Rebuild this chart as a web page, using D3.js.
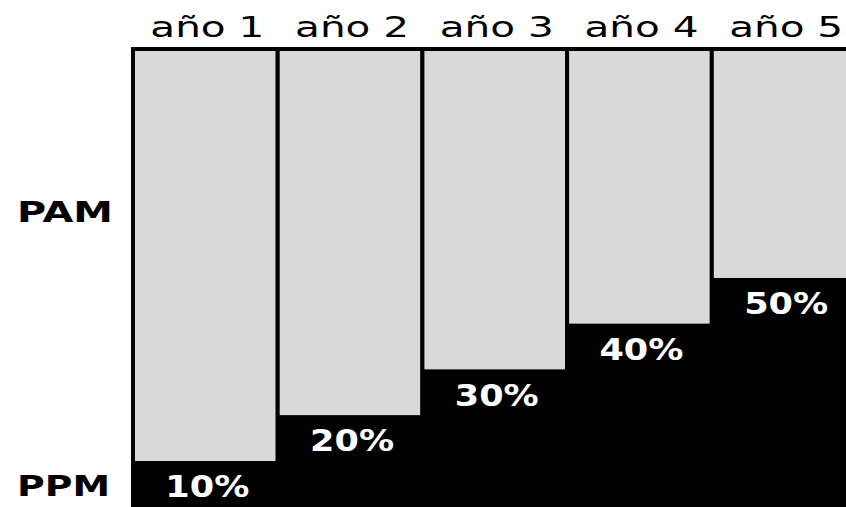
<!DOCTYPE html>
<html>
<head>
<meta charset="utf-8">
<script src="https://cdn.jsdelivr.net/npm/d3@7"></script>
<style>
  body { margin: 0; background: #fff; }
  svg { display: block; }
</style>
</head>
<body>
<svg id="chart"></svg>
<script>
// datos del gráfico
const years = ["año 1", "año 2", "año 3", "año 4", "año 5"];
const ppm = [10, 20, 30, 40, 50];   // parte negra (abajo)
const pam = [90, 80, 70, 60, 50];   // parte gris (arriba)
const rowLabels = ["PAM", "PPM"];

const width = 846, height = 507;
const marginLeft = 133, marginTop = 49, plotBottom = 507;
const bandW = 144.7;

const svg = d3.select("#chart").attr("width", width).attr("height", height);

const x = d3.scaleBand()
    .domain(years)
    .range([marginLeft, marginLeft + bandW * years.length])
    .padding(0);

const y = d3.scaleLinear()
    .domain([0, 100])
    .range([plotBottom, marginTop]);

const cols = svg.selectAll("g.col")
    .data(years)
    .enter().append("g")
    .attr("class", "col");

// marco negro de cada columna
cols.append("rect")
    .attr("x", d => x(d) - 2)
    .attr("y", y(100) - 2)
    .attr("width", x.bandwidth() + 4)
    .attr("height", plotBottom - y(100) + 2)
    .attr("fill", "#000");

// parte gris (PAM), apilada encima de PPM
cols.append("rect")
    .attr("x", d => x(d) + 2)
    .attr("y", y(100) + 2)
    .attr("width", x.bandwidth() - 4)
    .attr("height", (d, i) => y(ppm[i]) - y(ppm[i] + pam[i]) - 2)
    .attr("fill", "#d9d9d9");

// parte negra (PPM)
cols.append("rect")
    .attr("x", d => x(d))
    .attr("y", (d, i) => y(ppm[i]))
    .attr("width", x.bandwidth())
    .attr("height", (d, i) => y(0) - y(ppm[i]))
    .attr("fill", "#000");

// porcentajes
cols.append("text")
    .attr("x", d => x(d) + x.bandwidth() / 2 + 2)
    .attr("y", (d, i) => y(ppm[i]) + 36)
    .attr("text-anchor", "middle")
    .attr("font-family", "DejaVu Sans")
    .attr("font-weight", "bold")
    .attr("font-size", 30)
    .attr("textLength", 84)
    .attr("lengthAdjust", "spacingAndGlyphs")
    .attr("fill", "#fff")
    .text((d, i) => ppm[i] + "%");

// títulos de años arriba
cols.append("text")
    .attr("x", d => x(d) + x.bandwidth() / 2 + 2)
    .attr("y", 37)
    .attr("text-anchor", "middle")
    .attr("font-family", "DejaVu Sans")
    .attr("font-size", 29)
    .attr("textLength", 114)
    .attr("lengthAdjust", "spacingAndGlyphs")
    .attr("fill", "#000")
    .text(d => d);

// etiquetas de filas a la izquierda
const rowY = [222, 496];
svg.selectAll("text.row")
    .data(rowLabels)
    .enter().append("text")
    .attr("class", "row")
    .attr("x", 17)
    .attr("y", (d, i) => rowY[i])
    .attr("font-family", "DejaVu Sans")
    .attr("font-weight", "bold")
    .attr("font-size", 29)
    .attr("textLength", (d, i) => i === 0 ? 96 : 93)
    .attr("lengthAdjust", "spacingAndGlyphs")
    .attr("fill", "#000")
    .text(d => d);
</script>
</body>
</html>
